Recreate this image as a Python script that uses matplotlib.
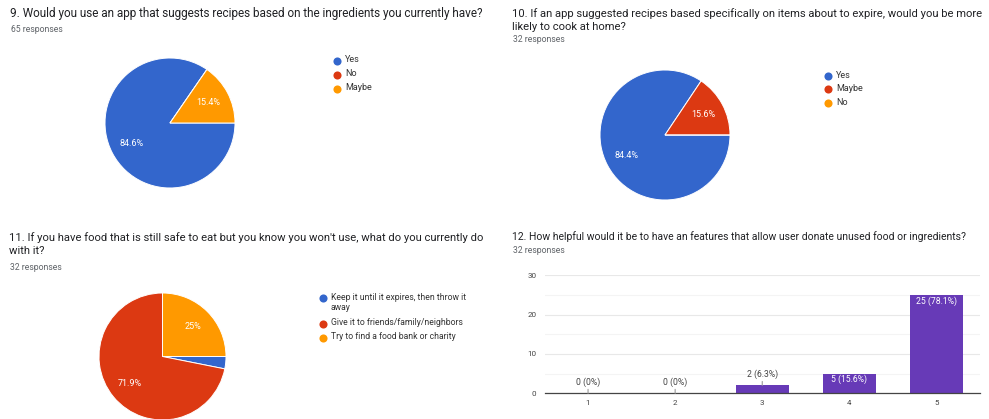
import math
import matplotlib
matplotlib.use('Agg')
import matplotlib.pyplot as plt

plt.rcParams['font.family'] = ['Roboto', 'DejaVu Sans']

W, H = 989, 419

# survey data
q9_labels = ['Yes', 'No', 'Maybe']
q9_counts = [55, 0, 10]

q10_labels = ['Yes', 'Maybe', 'No']
q10_counts = [27, 5, 0]

q11_labels = ['Keep it until it expires, then throw it\naway',
              'Give it to friends/family/neighbors',
              'Try to find a food bank or charity']
q11_counts = [1, 23, 8]

q12_ratings = ['1', '2', '3', '4', '5']
q12_counts = [0, 0, 2, 5, 25]

pie_colors = ['#3366CC', '#DC3912', '#FF9900']
bar_color = '#673AB7'
title_col = '#202124'
sub_col = '#5f6368'


def fmt_pct(p):
    # google style: round half up, no trailing zero
    return f"{math.floor(p * 10 + 0.5) / 10:g}"


fig = plt.figure(figsize=(W / 100, H / 100), dpi=100)
renderer = fig.canvas.get_renderer()

# overlay axes in pixel coords for titles and legends
ov = fig.add_axes([0, 0, 1, 1])
ov.set_xlim(0, W)
ov.set_ylim(H, 0)
ov.axis('off')


def px_axes(left, top, width, height):
    return fig.add_axes([left / W, (H - top - height) / H, width / W, height / H])


def draw_pie(cx, cy, r, counts):
    ax = px_axes(cx - r, cy - r, 2 * r, 2 * r)
    ax.pie(counts, colors=pie_colors, startangle=0, counterclock=False,
           autopct=lambda p: (fmt_pct(p) + '%') if p >= 5 else '',
           pctdistance=0.67, radius=1,
           wedgeprops=dict(edgecolor='white', linewidth=0.7),
           textprops=dict(color='white', fontsize=6.5))
    ax.set_xlim(-1, 1)
    ax.set_ylim(-1, 1)
    return ax


def draw_legend(x, y, labels, step, fs=6.5, line_h=11.5):
    for lab, col in zip(labels, pie_colors):
        ov.scatter([x], [y], s=34, color=col, linewidths=0, zorder=3)
        ov.text(x + 8, y - 5.5, lab, fontsize=fs, color='#333333',
                va='top', ha='left', linespacing=1.25)
        y += step + (lab.count('\n')) * line_h


def title(x, y, text, width, sub, sub_y):
    t = ov.text(x, y, text, fontsize=8.3, color=title_col, va='center', ha='left',
                linespacing=1.3)
    # scale font so the longest line spans the same width as the screenshot
    w = t.get_window_extent(renderer=renderer).width
    t.set_fontsize(8.3 * width / w)
    ov.text(x + 1, sub_y, sub, fontsize=6.2, color=sub_col, va='center', ha='left')


# Q9
title(10, 13, '9. Would you use an app that suggests recipes based on the ingredients you currently have?',
      478, '65 responses', 29)
draw_pie(170, 123, 65, q9_counts)
draw_legend(337, 61, q9_labels, 14)

# Q10
title(512, 20, '10. If an app suggested recipes based specifically on items about to expire, would you be more\nlikely to cook at home?',
      471, '32 responses', 40)
draw_pie(665, 135, 65, q10_counts)
draw_legend(828, 76, q10_labels, 13.5)

# Q11
title(9, 244, "11. If you have food that is still safe to eat but you know you won't use, what do you currently do\nwith it?",
      474, '32 responses', 267)
draw_pie(162.5, 356.5, 63.5, q11_counts)
draw_legend(323, 298, q11_labels, 14, fs=6.2)

# Q12
title(512, 237, '12. How helpful would it be to have an features that allow user donate unused food or ingredients?',
      452, '32 responses', 250)

ax4 = px_axes(544.5, 275.3, 435.5, 118)
xs = list(range(1, len(q12_counts) + 1))
ax4.bar(xs, q12_counts, width=0.61, color=bar_color, zorder=2)
ax4.set_xlim(0.5, 5.5)
ax4.set_ylim(0, 30)
ax4.set_xticks(xs)
ax4.set_xticklabels(q12_ratings)
ax4.set_yticks([0, 10, 20, 30])
ax4.set_yticks([5, 15, 25], minor=True)
ax4.grid(axis='y', which='major', color='#e8e8e8', lw=0.8, zorder=0)
ax4.grid(axis='y', which='minor', color='#f4f4f4', lw=0.8, zorder=0)
for s in ['top', 'right', 'left']:
    ax4.spines[s].set_visible(False)
ax4.spines['bottom'].set_color('#444444')
ax4.spines['bottom'].set_linewidth(0.9)
ax4.spines['bottom'].set_zorder(3)
ax4.tick_params(axis='both', which='both', length=0, labelsize=5.8, colors='#444444')
ax4.tick_params(axis='y', pad=6)
ax4.tick_params(axis='x', pad=4.5)

total = sum(q12_counts)
for xv, c in zip(xs, q12_counts):
    lab = f"{c} ({fmt_pct(100 * c / total)}%)"
    if c > 3:
        ax4.annotate(lab, (xv, c), xytext=(0, -4.3), textcoords='offset points',
                     ha='center', va='center', fontsize=6.2, color='white', zorder=4)
    else:
        ax4.annotate(lab, (xv, c), xytext=(0, 8.3), textcoords='offset points',
                     ha='center', va='center', fontsize=6.2, color='#444444', zorder=4,
                     arrowprops=dict(arrowstyle='-', color='#999999', lw=0.8,
                                     shrinkA=0, shrinkB=0))

fig.savefig('out.png', dpi=100)
